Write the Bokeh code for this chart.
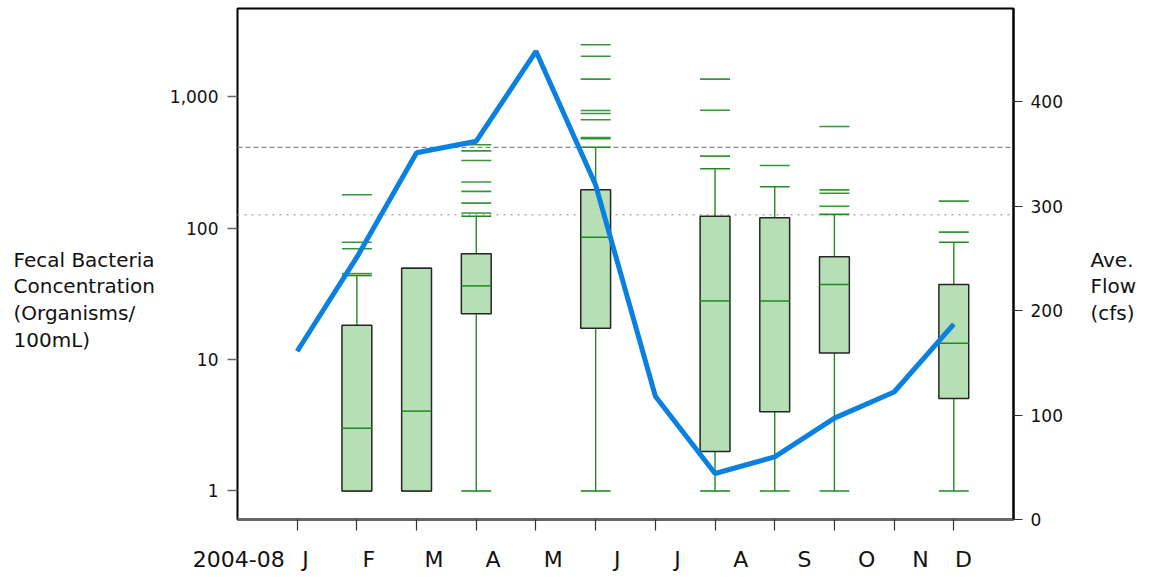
from bokeh.plotting import figure
from bokeh.layouts import row
from bokeh.models import (Range1d, LinearAxis, LinearScale, FixedTicker,
                          NumeralTickFormatter, Span, ColumnDataSource)
from bokeh.core.properties import value
from bokeh.embed import file_html
from bokeh.resources import INLINE

# ---------------- data ----------------
month_letters = ["J", "F", "M", "A", "M", "J", "J", "A", "S", "O", "N", "D"]
month_pos = list(range(1, 13))
avg_flow = [161, 251, 351, 362, 448, 320, 118, 44, 60, 97, 122, 187]

box_pos = [2, 3, 4, 6, 8, 9, 10, 12]
box_low = [1, 1, 1, 1, 1, 1, 1, 1]
box_q1 = [1, 1, 22.3, 17.3, 2.0, 4.0, 11.2, 5.05]
box_med = [3.0, 4.05, 36.3, 85, 27.9, 27.9, 37.2, 13.3]
box_q3 = [18.2, 49.4, 63.7, 195, 123, 119.5, 60.4, 37.2]
box_high = [43.5, 49.4, 123, 411, 282, 206, 127, 78]

outliers_by_month = {
    2: [45, 69.5, 78, 179],
    4: [130, 154.5, 190, 224, 326, 386, 430],
    6: [477, 487, 665, 743, 783, 1355, 2026, 2474],
    8: [352, 787, 1355],
    9: [299],
    10: [146.5, 184, 195, 591],
    12: [93, 160],
}

standard_high = 410
standard_low = 126

period_label = "2004-08"
left_title = ["Fecal Bacteria", "Concentration", "(Organisms/", "100mL)"]
right_title = ["Ave.", "Flow", "(cfs)"]

# ---------------- styles / layout ----------------
GREEN = "#1f8c1f"
BOX_FILL = "#b6dfb6"
BLUE = "#0a80e0"
FONT = "DejaVu Sans"
TEXT_COLOR = "#111111"
BOX_W = 0.5

LEFT_W, MAIN_W, RIGHT_W = 160, 920, 76
H = 577
MAIN_X0 = LEFT_W
FRAME_X0, FRAME_X1 = 237, 1013
FRAME_Y0, FRAME_Y1 = 8, 519

p = figure(width=MAIN_W, height=H, title=None,
           x_range=Range1d(0, 13), y_range=Range1d(0.607, 4670),
           y_axis_type="log", output_backend="svg", toolbar_location=None,
           min_border_left=FRAME_X0 - MAIN_X0,
           min_border_right=MAIN_W - (FRAME_X0 - MAIN_X0) - (FRAME_X1 - FRAME_X0),
           min_border_top=FRAME_Y0,
           min_border_bottom=H - FRAME_Y1)
p.xgrid.visible = False
p.ygrid.visible = False
p.outline_line_color = "black"
p.outline_line_width = 2

# reference lines
p.add_layout(Span(location=standard_high, dimension="width", line_color="#8a8a8a",
                  line_dash="5 3", line_width=1.2, level="underlay"))
p.add_layout(Span(location=standard_low, dimension="width", line_color="#b0b0b0",
                  line_dash="2 5", line_width=1.6, level="underlay"))

# boxes
bsrc = ColumnDataSource(dict(
    x=box_pos, low=box_low, q1=box_q1, med=box_med, q3=box_q3, high=box_high,
    x0=[x - BOX_W / 2 for x in box_pos], x1=[x + BOX_W / 2 for x in box_pos],
))
p.segment(x0="x", x1="x", y0="q3", y1="high", source=bsrc, line_color=GREEN, line_width=1.4)
p.segment(x0="x", x1="x", y0="low", y1="q1", source=bsrc, line_color=GREEN, line_width=1.4)
p.segment(x0="x0", x1="x1", y0="high", y1="high", source=bsrc, line_color=GREEN, line_width=1.6)
p.segment(x0="x0", x1="x1", y0="low", y1="low", source=bsrc, line_color=GREEN, line_width=1.6)
p.vbar(x="x", width=BOX_W, bottom="q1", top="q3", source=bsrc,
       fill_color=BOX_FILL, line_color="#262626", line_width=1.5)
p.segment(x0="x0", x1="x1", y0="med", y1="med", source=bsrc, line_color=GREEN, line_width=1.5)

# outliers
ox, oy = [], []
for m, vals in outliers_by_month.items():
    for v in vals:
        ox.append(m)
        oy.append(v)
p.scatter(ox, oy, marker="dash", size=30, line_color=GREEN, line_width=1.6, line_alpha=0.9)

# flow line on linear right axis
p.extra_y_ranges = {"flow": Range1d(0, 489)}
p.extra_y_scales = {"flow": LinearScale()}
p.line(month_pos, avg_flow, y_range_name="flow", line_color=BLUE, line_width=5)

# left axis
ya = p.yaxis[0]
ya.ticker = FixedTicker(ticks=[1, 10, 100, 1000])
ya.formatter = NumeralTickFormatter(format="0,0")
ya.minor_tick_line_color = None
ya.major_tick_in = 0
ya.major_tick_out = 10
ya.major_tick_line_color = "#666666"
ya.major_tick_line_width = 1.5
ya.axis_line_color = None
ya.major_label_text_font = FONT
ya.major_label_text_font_size = "17px"
ya.major_label_text_color = TEXT_COLOR
ya.major_label_standoff = 9

# right axis
ra = LinearAxis(y_range_name="flow", ticker=FixedTicker(ticks=[0, 100, 200, 300, 400]))
ra.minor_tick_line_color = None
ra.major_tick_in = 0
ra.major_tick_out = 9
ra.major_tick_line_color = "#333333"
ra.major_tick_line_width = 1.2
ra.axis_line_color = "black"
ra.axis_line_width = 2
ra.major_label_text_font = FONT
ra.major_label_text_font_size = "17px"
ra.major_label_text_color = TEXT_COLOR
ra.major_label_standoff = 8
p.add_layout(ra, "right")

# bottom axis: tick marks only
xa = p.xaxis[0]
xa.ticker = FixedTicker(ticks=month_pos)
xa.minor_tick_line_color = None
xa.major_tick_in = 0
xa.major_tick_out = 11
xa.major_tick_line_color = "#333333"
xa.major_tick_line_width = 1.2
xa.axis_line_color = "#666666"
xa.axis_line_width = 3
xa.major_label_text_color = None
xa.major_label_text_font_size = "1px"
xa.major_label_standoff = 0

# second bottom axis: month letters (set slightly right of the ticks, as in the original)
letter_shift = [0.14, 0.2, 0.29, 0.28, 0.29, 0.36, 0.37, 0.43, 0.5, 0.54, 0.44, 0.16]
letter_x = [m + s for m, s in zip(month_pos, letter_shift)]
period_x = 0.02
label_overrides = {x: t for x, t in zip(letter_x, month_letters)}
label_overrides[period_x] = period_label
la = LinearAxis(ticker=FixedTicker(ticks=[period_x] + letter_x),
                major_label_overrides=label_overrides)
la.axis_line_color = None
la.major_tick_line_color = None
la.minor_tick_line_color = None
la.major_tick_in = 0
la.major_tick_out = 0
la.major_label_text_font = FONT
la.major_label_text_font_size = "22px"
la.major_label_text_color = TEXT_COLOR
la.major_label_standoff = 16
p.add_layout(la, "below")


# ---------------- side title strips ----------------
def strip(width, xr):
    f = figure(width=width, height=H, x_range=xr, y_range=Range1d(H, 0), title=None,
               x_axis_type=None, y_axis_type=None, output_backend="svg",
               toolbar_location=None, min_border=0)
    f.outline_line_color = None
    return f


title_y = [283.5 + 30.3 * i for i in range(4)]

left = strip(LEFT_W, Range1d(0, MAIN_X0))
left.text(x=[13] * len(left_title), y=title_y[:len(left_title)],
          text=left_title, text_font=value(FONT), text_font_size="20px",
          text_color=TEXT_COLOR, text_align="left", text_baseline="alphabetic")

right_x0 = MAIN_X0 + MAIN_W
right = strip(RIGHT_W, Range1d(right_x0, right_x0 + RIGHT_W))
right.text(x=[1090] * len(right_title), y=title_y[:len(right_title)],
           text=right_title, text_font=value(FONT), text_font_size="20px",
           text_color=TEXT_COLOR, text_align="left", text_baseline="alphabetic")

layout = row(left, p, right)
open("out.html", "w").write(file_html(layout, INLINE))
